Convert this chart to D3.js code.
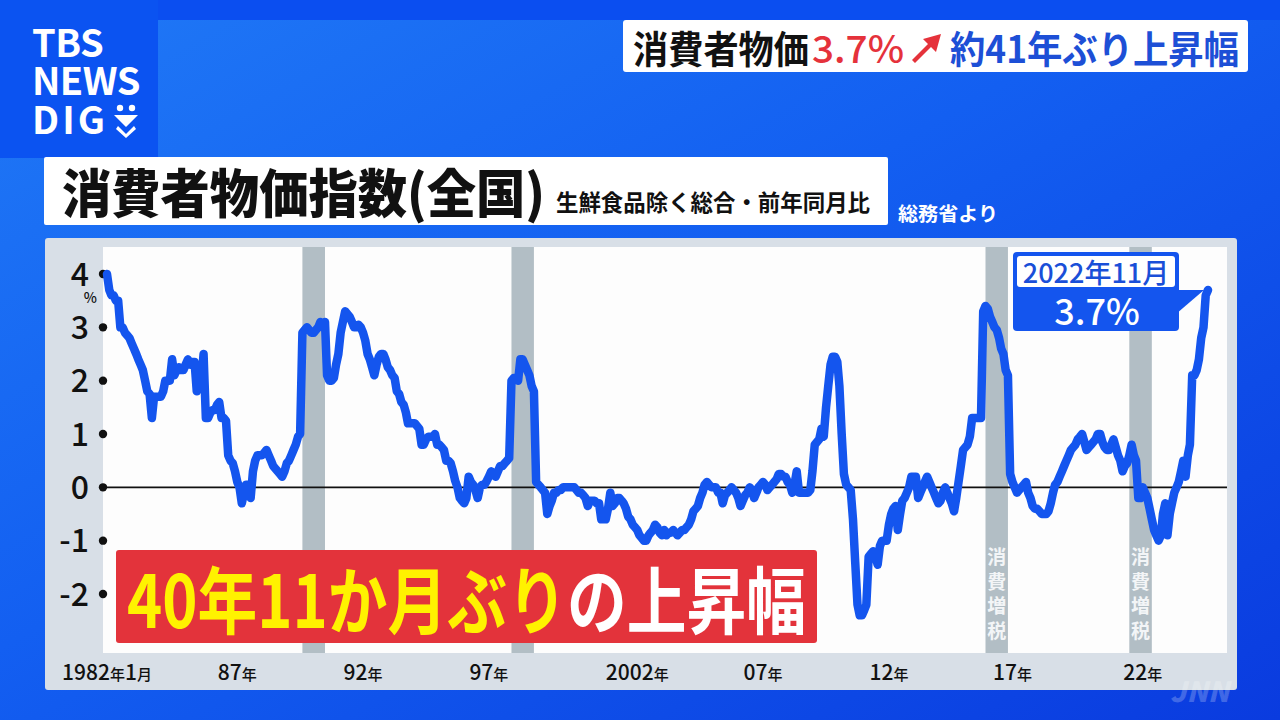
<!DOCTYPE html>
<html><head><meta charset="utf-8">
<script src="https://cdn.jsdelivr.net/npm/d3@7"></script>
<style>
html,body{margin:0;padding:0;background:#0b4ff0;}
svg{display:block;}
text{font-family:"Noto Sans CJK JP","Noto Sans",sans-serif;}
</style></head><body>
<svg id="chart" width="1280" height="720"></svg>
<script>
// ---- data: 消費者物価指数(生鮮食品除く総合) 前年同月比 %, monthly from 1982年1月 ----
const startYear = 1982;
const cpiValues = [
  4.0, 3.7, 3.6, 3.6, 3.5, 3.5, 3.0, 3.0, 2.9, 2.85, 2.8, 2.7,          // 1982
  2.6, 2.5, 2.4, 2.3, 2.2, 2.0, 1.8, 1.75, 1.3, 1.7, 1.7, 1.7,          // 1983
  1.7, 1.8, 2.0, 2.0, 2.0, 2.4, 2.1, 2.2, 2.25, 2.2, 2.2, 2.3,          // 1984
  2.4, 2.3, 2.35, 2.35, 1.8, 2.0, 2.0, 2.5, 1.3, 1.3, 1.4, 1.45,        // 1985
  1.45, 1.55, 1.6, 1.3, 1.3, 1.25, 0.6, 0.5, 0.45, 0.3, 0.1, 0.0,       // 1986
  -0.3, -0.1, 0.05, 0.05, -0.2, 0.3, 0.5, 0.6, 0.6, 0.6, 0.65, 0.7,     // 1987
  0.6, 0.5, 0.4, 0.35, 0.3, 0.25, 0.2, 0.3, 0.45, 0.5, 0.6, 0.7,        // 1988
  0.8, 0.95, 1.0, 2.9, 2.95, 3.0, 2.95, 2.9, 2.9, 2.95, 3.0, 3.1,       // 1989
  3.0, 3.1, 2.1, 2.0, 2.0, 2.05, 2.3, 2.5, 2.9, 3.1, 3.3, 3.25,         // 1990
  3.2, 3.1, 3.0, 3.0, 3.05, 3.0, 2.9, 2.75, 2.5, 2.4, 2.25, 2.1,        // 1991
  2.3, 2.45, 2.5, 2.5, 2.4, 2.25, 2.2, 2.1, 2.05, 1.8, 1.75, 1.6,       // 1992
  1.55, 1.4, 1.2, 1.2, 1.2, 1.2, 1.15, 1.1, 0.8, 0.8, 0.9, 0.95,        // 1993
  0.95, 0.95, 1.0, 0.8, 0.8, 0.75, 0.7, 0.5, 0.5, 0.45, 0.3, 0.12,      // 1994
  0.0, -0.2, -0.25, -0.3, -0.2, 0.2, 0.1, 0.05, -0.05, -0.2, 0.0, 0.05, // 1995
  0.05, 0.12, 0.2, 0.3, 0.25, 0.2, 0.3, 0.4, 0.4, 0.45, 0.5, 0.55,      // 1996
  2.0, 2.05, 2.05, 2.0, 2.4, 2.4, 2.3, 2.2, 2.1, 1.9, 1.8, 0.1,         // 1997
  0.05, 0.0, -0.05, -0.1, -0.5, -0.35, -0.25, -0.1, -0.1, -0.05, -0.05, 0.0, // 1998
  0.0, 0.0, 0.0, 0.0, 0.0, -0.05, -0.1, -0.1, -0.15, -0.2, -0.35, -0.25,     // 1999
  -0.25, -0.25, -0.3, -0.3, -0.6, -0.6, -0.6, -0.4, -0.1, -0.35, -0.3, -0.2, // 2000
  -0.2, -0.25, -0.3, -0.4, -0.55, -0.6, -0.7, -0.75, -0.8, -0.9, -0.95, -1.0, // 2001
  -1.0, -0.9, -0.85, -0.8, -0.7, -0.75, -0.85, -0.9, -0.8, -0.9, -0.85, -0.85, // 2002
  -0.8, -0.85, -0.9, -0.85, -0.8, -0.8, -0.75, -0.7, -0.6, -0.45, -0.4, -0.35, // 2003
  -0.2, -0.1, 0.05, 0.1, 0.05, 0.0, 0.0, 0.0, -0.1, -0.1, -0.3, -0.15,  // 2004
  -0.1, -0.05, 0.0, -0.05, -0.1, -0.2, -0.35, -0.25, -0.15, -0.1, 0.0, -0.05, // 2005
  -0.2, -0.1, 0.0, 0.05, 0.1, 0.05, -0.05, 0.0, 0.05, 0.1, 0.15, 0.25,  // 2006
  0.25, 0.2, 0.2, 0.1, 0.05, -0.1, 0.05, 0.3, -0.1, -0.1, -0.1, -0.1,   // 2007
  -0.1, -0.05, 0.3, 0.8, 0.85, 0.9, 1.1, 0.95, 1.5, 1.9, 2.3, 2.45,     // 2008
  2.45, 2.35, 1.9, 1.0, 0.25, 0.05, 0.0, -0.05, -0.6, -1.4, -2.2, -2.4, // 2009
  -2.4, -2.3, -2.2, -1.3, -1.25, -1.2, -1.3, -1.45, -1.1, -1.0, -1.0, -1.0, // 2010
  -0.7, -0.5, -0.4, -0.35, -0.8, -0.5, -0.25, -0.2, -0.1, 0.0, 0.2, 0.2,    // 2011
  0.2, -0.2, -0.1, 0.0, 0.1, 0.2, 0.1, 0.0, -0.1, -0.2, -0.3, -0.25,    // 2012
  -0.1, 0.0, -0.1, -0.2, -0.3, -0.45, -0.2, 0.1, 0.4, 0.7, 0.75, 0.8,   // 2013
  0.95, 1.3, 1.3, 1.3, 1.3, 1.3, 3.3, 3.4, 3.35, 3.2, 3.1, 3.0,         // 2014
  2.95, 2.8, 2.6, 2.5, 2.2, 2.1, 0.25, 0.1, 0.0, -0.1, -0.05, 0.0,      // 2015
  0.05, 0.1, -0.1, -0.2, -0.35, -0.4, -0.4, -0.45, -0.5, -0.5, -0.5, -0.45, // 2016
  -0.3, -0.1, 0.05, 0.1, 0.2, 0.3, 0.4, 0.5, 0.6, 0.7, 0.75, 0.8,       // 2017
  0.9, 0.95, 1.0, 0.85, 0.7, 0.75, 0.8, 0.85, 0.9, 1.0, 1.0, 0.85,      // 2018
  0.75, 0.7, 0.7, 0.8, 0.9, 0.75, 0.6, 0.5, 0.3, 0.4, 0.45, 0.6,        // 2019
  0.8, 0.6, 0.5, -0.2, -0.2, 0.0, -0.1, -0.2, -0.4, -0.6, -0.8, -0.9,   // 2020
  -1.0, -0.9, -0.5, -0.3, -0.9, -0.5, -0.3, -0.1, 0.0, 0.1, 0.3, 0.5,   // 2021
  0.2, 0.6, 0.8, 2.1, 2.1, 2.2, 2.4, 2.8, 3.0, 3.6, 3.7                 // 2022
];
const yTicks = [4, 3, 2, 1, 0, -1, -2];
const xTickDates  = ["1982-01", "1986-11", "1991-07", "1996-03", "2001-09", "2006-05", "2011-01", "2015-08", "2020-06"];
const xTickLabels = [["1982","年","1","月"], ["87","年"], ["92","年"], ["97","年"], ["2002","年"], ["07","年"], ["12","年"], ["17","年"], ["22","年"]];
const taxBands = [
  {from: "1989-04", to: "1990-02", label: ""},
  {from: "1997-01", to: "1997-11", label: ""},
  {from: "2014-08", to: "2015-06", label: "消費増税"},
  {from: "2019-12", to: "2020-10", label: "消費増税"}
];
const latestLabel = "2022年11月";
const latestValue = "3.7%";

// ---- drawing ----
const parseM = d3.timeParse("%Y-%m");
const data = cpiValues.map((v, i) => ({date: new Date(startYear, i, 1), v}));
const svg = d3.select("#chart");
const defs = svg.append("defs");
const g1 = defs.append("linearGradient").attr("id", "bg").attr("x1", 0).attr("y1", 0).attr("x2", 1).attr("y2", 1);
g1.append("stop").attr("offset", 0).attr("stop-color", "#2079f6");
g1.append("stop").attr("offset", 0.45).attr("stop-color", "#135ff1");
g1.append("stop").attr("offset", 1).attr("stop-color", "#0a3bdf");

svg.append("rect").attr("width", 1280).attr("height", 720).attr("fill", "url(#bg)");
svg.append("rect").attr("width", 1280).attr("height", 20).attr("fill", "#0b4ef0");
svg.append("rect").attr("width", 158).attr("height", 158).attr("fill", "#0b53f1");

// logo (one text block, three lines)
const logo = svg.append("g").attr("fill", "#fff");
const lt = logo.append("text").attr("font-family", "'Open Sans','Noto Sans',sans-serif").attr("font-weight", 700).attr("font-size", 38);
lt.append("tspan").attr("x", 32).attr("y", 57).attr("letter-spacing", -0.5).text("TBS");
lt.append("tspan").attr("x", 32).attr("y", 95).attr("letter-spacing", -0.6).text("NEWS");
lt.append("tspan").attr("x", 32).attr("y", 134).attr("letter-spacing", 3).text("DIG");
logo.append("circle").attr("cx", 120).attr("cy", 108).attr("r", 3.2);
logo.append("circle").attr("cx", 132).attr("cy", 108).attr("r", 3.2);
logo.append("path").attr("d", "M114,115 L138,115 L126,127 Z M118,126 L126,134 L134,126 L136,129 L126,138 L116,129 Z");

// top-right title box
svg.append("rect").attr("x", 623).attr("y", 20).attr("width", 625).attr("height", 52).attr("rx", 3).attr("fill", "#fff");
const tt = svg.append("g").attr("font-size", 38).attr("font-weight", 700);
tt.append("text").attr("x", 633).attr("y", 63).attr("fill", "#111").attr("textLength", 176).attr("lengthAdjust", "spacingAndGlyphs").text("消費者物価");
tt.append("text").attr("x", 812).attr("y", 63).attr("fill", "#e5323b").attr("font-weight", 500).attr("textLength", 92).attr("lengthAdjust", "spacingAndGlyphs").text("3.7%");
tt.append("path").attr("d", "M912,60 L928,44 L923,39 L941,34 L936,52 L931,47 L915,63 Z").attr("fill", "#e5323b");
tt.append("text").attr("x", 950).attr("y", 63).attr("fill", "#1d4fd6").attr("textLength", 289).attr("lengthAdjust", "spacingAndGlyphs").text("約41年ぶり上昇幅");

// header box
svg.append("rect").attr("x", 44).attr("y", 157).attr("width", 844).attr("height", 68).attr("rx", 2).attr("fill", "#fff");
svg.append("text").attr("x", 62).attr("y", 213).attr("font-size", 52).attr("font-weight", 900).attr("fill", "#111")
  .attr("textLength", 483).attr("lengthAdjust", "spacingAndGlyphs").text("消費者物価指数(全国)");
svg.append("text").attr("x", 556).attr("y", 211).attr("font-size", 23).attr("font-weight", 700).attr("fill", "#111")
  .attr("textLength", 314).attr("lengthAdjust", "spacingAndGlyphs").text("生鮮食品除く総合・前年同月比");
svg.append("text").attr("x", 898).attr("y", 221).attr("font-size", 19).attr("font-weight", 700).attr("fill", "#fff")
  .attr("textLength", 100).attr("lengthAdjust", "spacingAndGlyphs").text("総務省より");

// chart panel
svg.append("rect").attr("x", 45).attr("y", 238).attr("width", 1192).attr("height", 452).attr("rx", 3).attr("fill", "#d8dfe7");
svg.append("rect").attr("x", 103).attr("y", 247).attr("width", 1124).attr("height", 406).attr("fill", "#fdfdfd");

const x = d3.scaleTime().domain([new Date(startYear, 0, 1), new Date(2022, 10, 1)]).range([107, 1208]);
const y = d3.scaleLinear().domain([-2, 4]).range([594, 274]);

// tax bands
const bands = svg.append("g");
taxBands.forEach(b => {
  const x0 = x(parseM(b.from)), x1 = x(parseM(b.to));
  bands.append("rect").attr("x", x0).attr("y", 247).attr("width", x1 - x0).attr("height", 406).attr("fill", "#b2bec5");
  if (b.label) {
    Array.from(b.label).forEach((ch, i) => {
      bands.append("text").attr("x", (x0 + x1) / 2).attr("y", 564 + i * 24.5).attr("text-anchor", "middle")
        .attr("font-size", 19).attr("font-weight", 700).attr("fill", "#f3f5f7").text(ch);
    });
  }
});

// zero line
svg.append("line").attr("x1", 103).attr("x2", 1227).attr("y1", y(0)).attr("y2", y(0)).attr("stroke", "#111").attr("stroke-width", 1.6);

// y axis ticks: dots + labels
const ya = svg.append("g");
yTicks.forEach(t => {
  ya.append("circle").attr("cx", 103).attr("cy", y(t)).attr("r", 4.2).attr("fill", "#111");
  ya.append("text").attr("x", 89).attr("y", y(t)).attr("dy", "0.36em").attr("text-anchor", "end")
    .attr("font-size", 32).attr("font-weight", 500).attr("fill", "#111").text(t < 0 ? "-" + Math.abs(t) : t);
});
ya.append("text").attr("x", 97).attr("y", 303).attr("text-anchor", "end").attr("font-size", 14).attr("font-weight", 500).attr("fill", "#111").text("%");

// x axis labels
const xa = svg.append("g");
xTickDates.forEach((d, i) => {
  const t = xa.append("text").attr("x", x(parseM(d))).attr("y", 680).attr("text-anchor", "middle").attr("fill", "#111").attr("font-weight", 500);
  xTickLabels[i].forEach((s, j) => {
    t.append("tspan").attr("font-size", /\d/.test(s) ? 21 : 15).text(s);
  });
});

// line
const line = d3.line().x(d => x(d.date)).y(d => y(d.v));
svg.append("path").datum(data).attr("d", line).attr("fill", "none").attr("stroke", "#1455ee")
  .attr("stroke-width", 8.5).attr("stroke-linejoin", "round").attr("stroke-linecap", "round");

// red callout (single text, two colours)
svg.append("rect").attr("x", 116).attr("y", 550).attr("width", 701).attr("height", 93).attr("rx", 3).attr("fill", "#e3333b");
const rt = svg.append("text").attr("x", 127).attr("y", 628).attr("font-size", 73).attr("font-weight", 700)
  .attr("textLength", 679).attr("lengthAdjust", "spacingAndGlyphs");
rt.append("tspan").attr("fill", "#fff200").text("40年11か月ぶり");
rt.append("tspan").attr("fill", "#fff").text("の上昇幅");

// latest value callout
const last = data[data.length - 1];
const lx = x(last.date), ly = y(last.v);
const co = svg.append("g");
co.append("path").attr("d", `M1176,${ly} L${lx - 4},${ly} L1176,${ly + 24} Z`).attr("fill", "#1455ee");
co.append("rect").attr("x", 1013).attr("y", 252).attr("width", 166).attr("height", 79).attr("rx", 4).attr("fill", "#1455ee");
co.append("rect").attr("x", 1017).attr("y", 256).attr("width", 158).attr("height", 31).attr("rx", 3).attr("fill", "#fff");
co.append("text").attr("x", 1096).attr("y", 283).attr("text-anchor", "middle").attr("font-size", 27).attr("font-weight", 500)
  .attr("fill", "#1a4fd8").text(latestLabel);
co.append("text").attr("x", 1097).attr("y", 325).attr("text-anchor", "middle").attr("font-size", 36).attr("font-weight", 500)
  .attr("fill", "#fff").text(latestValue);

// watermark
svg.append("text").attr("x", 1170).attr("y", 702).attr("font-size", 28).attr("font-weight", 900).attr("font-style", "italic")
  .attr("fill", "rgba(255,255,255,0.22)").attr("font-family", "'Open Sans',sans-serif").text("JNN");
</script>
</body></html>
